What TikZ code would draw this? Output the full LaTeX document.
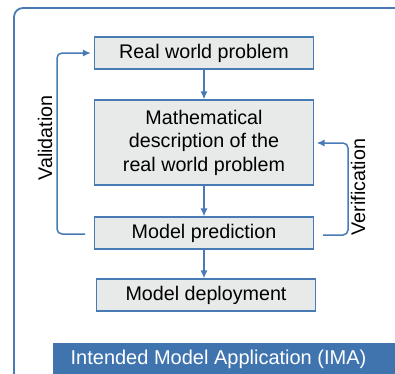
\documentclass[tikz,border=0pt]{standalone}
\usepackage{fontspec}
\setmainfont{Liberation Sans}
\usetikzlibrary{arrows.meta}
\definecolor{lineblue}{RGB}{72,122,182}
\definecolor{bannerblue}{RGB}{64,116,175}
\definecolor{boxgray}{RGB}{232,233,233}
\tikzset{
  x=1pt, y=-1pt,
  stagebox/.style={draw=lineblue, line width=1.1pt, fill=boxgray, minimum width=219pt,
    inner sep=0pt, align=center, font=\fontsize{19.7}{23.5}\selectfont},
  flow/.style={draw=lineblue, line width=1.5pt, -{Latex[length=8pt,width=7pt]}},
  loop/.style={flow, rounded corners=5pt, shorten >=3pt},
  sidelabel/.style={rotate=90, font=\fontsize{19.7}{23.5}\selectfont}
}
\begin{document}
\begin{tikzpicture}
\useasboundingbox (0,0) rectangle (395,373);
\clip (0,0) rectangle (395,373);
% outer frame
\draw[lineblue, line width=1.8pt, rounded corners=9pt] (14,8) rectangle (406,382);
% stages
\node[stagebox, minimum height=32pt] (rwp) at (204,53) {Real world problem};
\node[stagebox, minimum height=85pt] (math) at (204,142.5) {Mathematical\\description of the\\real world problem};
\node[stagebox, minimum height=32pt] (pred) at (204,233) {Model prediction};
\node[stagebox, minimum height=32pt] (dep) at (206,295) {Model deployment};
% main flow
\draw[flow] (rwp) -- (math);
\draw[flow] (math) -- (pred);
\draw[flow] (pred) -- (pred |- dep.north);
% validation loop
\coordinate (vs) at (85,234);
\coordinate (vc1) at (57,234);
\coordinate (vc2) at (57,53);
\draw[loop] (vs) -- (vc1) -- (vc2) -- (rwp.west);
\node[sidelabel] (val) at (45,138) {Validation};
% verification loop
\coordinate (ws) at (323,235);
\coordinate (wc1) at (348,235);
\coordinate (wc2) at (348,143);
\draw[loop, shorten >=2.5pt] (ws) -- (wc1) -- (wc2) -- (math.east |- wc2);
\node[sidelabel] (ver) at (358,187) {Verification};
% application banner
\fill[bannerblue] (53,343) rectangle (400,380);
\node[text=white, font=\fontsize{20}{24}\selectfont] (ima) at (218.5,359) {Intended Model Application (IMA)};
\end{tikzpicture}
\end{document}
